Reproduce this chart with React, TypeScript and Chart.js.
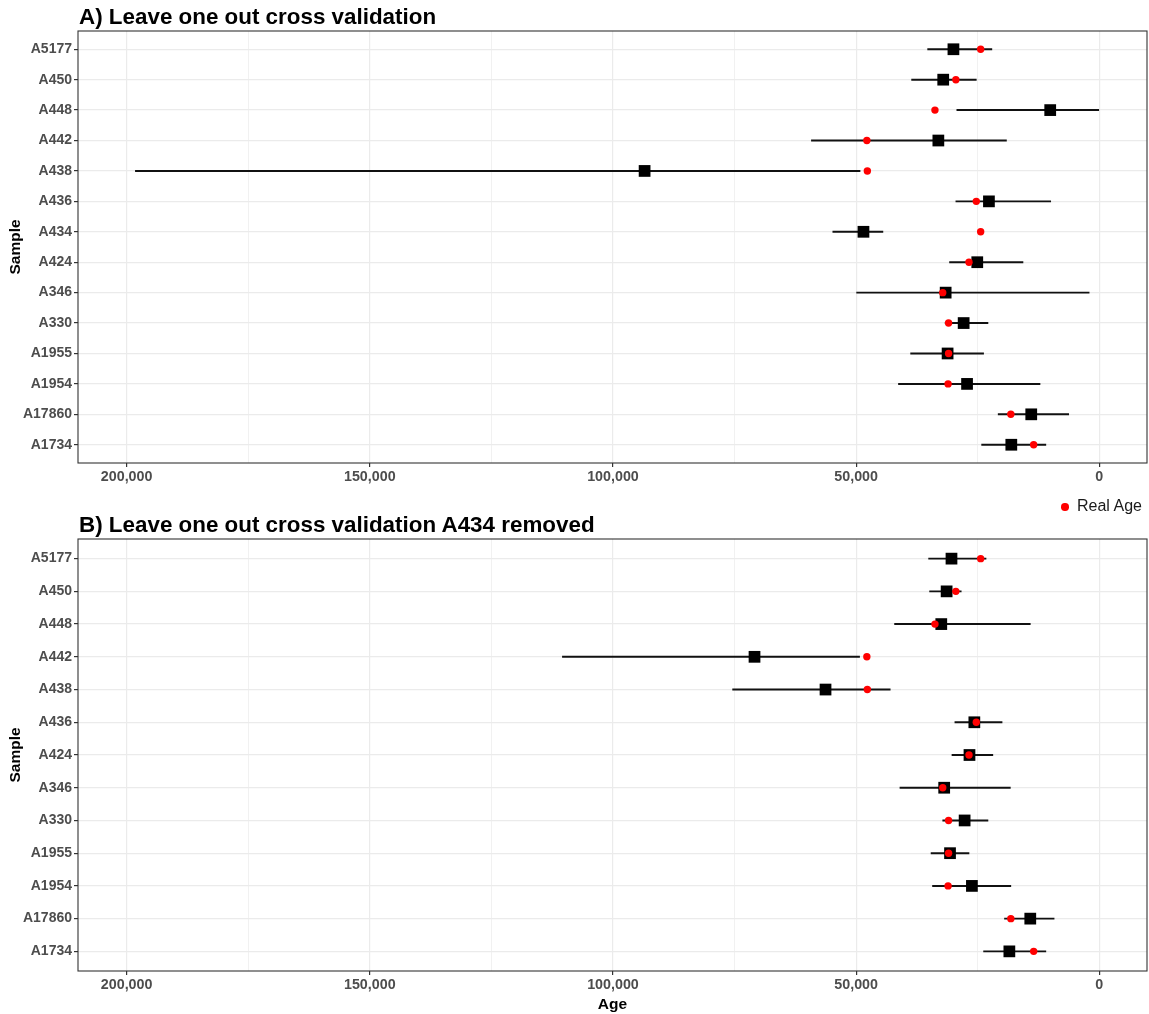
import React, { useEffect, useRef } from 'react';
import { Chart, registerables } from 'chart.js';

Chart.register(...registerables);

// ---- Panel A: leave one out cross validation (all samples) ----
const samplesA = ['A5177', 'A450', 'A448', 'A442', 'A438', 'A436', 'A434', 'A424', 'A346', 'A330', 'A1955', 'A1954', 'A17860', 'A1734'];
const predictedA = [30000, 32100, 10100, 33100, 93500, 22700, 48500, 25100, 31600, 27900, 31200, 27200, 14000, 18100];
const lowerA = [22100, 25300, 0, 19100, 49200, 10000, 44500, 15700, 2100, 22900, 23800, 12200, 6300, 11000];
const upperA = [35300, 38600, 29300, 59200, 198200, 29500, 54800, 30800, 49900, 31700, 38800, 41300, 20800, 24200];
const realAgeA = [24400, 29500, 33800, 47800, 47700, 25300, 24400, 26800, 32200, 31000, 31000, 31100, 18200, 13500];

// ---- Panel B: leave one out cross validation with A434 removed ----
const samplesB = ['A5177', 'A450', 'A448', 'A442', 'A438', 'A436', 'A424', 'A346', 'A330', 'A1955', 'A1954', 'A17860', 'A1734'];
const predictedB = [30400, 31400, 32500, 70900, 56300, 25700, 26700, 31900, 27700, 30700, 26200, 14200, 18500];
const lowerB = [23300, 28400, 14200, 49300, 43000, 20000, 21900, 18300, 22900, 26800, 18200, 9300, 11000];
const upperB = [35100, 34900, 42100, 110400, 75400, 29700, 30300, 41000, 32200, 34600, 34300, 19500, 23800];
const realAgeB = [24400, 29500, 33800, 47800, 47700, 25300, 26800, 32200, 31000, 31000, 31100, 18200, 13500];

// Age axis: major ticks every 50,000, minor grid every 25,000
const ageTicks = [0, 25000, 50000, 75000, 100000, 125000, 150000, 175000, 200000];
const ageMin = -9800;
const ageMax = 210000;

const FONT = "'Liberation Sans', Arial, Helvetica, sans-serif";
const GRID = '#ebebeb';
const DARK = '#333333';
const TICK_TEXT = '#4d4d4d';

const panelBorder = {
  id: 'panelBorder',
  afterDraw(chart: any) {
    const { ctx, chartArea: a } = chart;
    ctx.save();
    ctx.strokeStyle = DARK;
    ctx.lineWidth = 1.1;
    ctx.strokeRect(a.left, a.top, a.right - a.left, a.bottom - a.top);
    ctx.restore();
  },
};

type PanelProps = {
  samples: string[];
  predicted: number[];
  lower: number[];
  upper: number[];
  realAge: number[];
  width: number;
  height: number;
  padTop: number;
  xAxisHeight: number;
  showAgeTitle: boolean;
};

function Panel(props: PanelProps) {
  const ref = useRef<HTMLCanvasElement | null>(null);

  useEffect(() => {
    if (!ref.current) return;
    const { samples, predicted, lower, upper, realAge } = props;
    const idx = samples.map((_, i) => i);
    const isMajor = (v: number) => v % 50000 === 0;

    const chart = new Chart(ref.current, {
      type: 'scatter',
      data: {
        datasets: [
          {
            label: 'Real Age',
            data: idx.map((i) => ({ x: realAge[i], y: i })),
            pointStyle: 'circle',
            pointRadius: 3.7,
            pointHoverRadius: 3.7,
            backgroundColor: '#ff0000',
            borderWidth: 0,
            order: 0,
          } as any,
          {
            label: 'Predicted Age',
            data: idx.map((i) => ({ x: predicted[i], y: i })),
            pointStyle: 'rect',
            pointRadius: 8.3,
            pointHoverRadius: 8.3,
            backgroundColor: '#000000',
            borderWidth: 0,
            order: 1,
          } as any,
          {
            type: 'bar',
            label: 'Interval',
            indexAxis: 'y',
            data: idx.map((i) => ({ x: [lower[i], upper[i]], y: i })),
            backgroundColor: '#111111',
            barThickness: 1.3,
            grouped: false,
            order: 2,
          } as any,
        ],
      },
      options: {
        responsive: false,
        animation: false,
        events: [],
        layout: { autoPadding: false, padding: { top: props.padTop, right: 2, left: 0, bottom: 0 } },
        plugins: {
          legend: { display: false },
          tooltip: { enabled: false },
          title: { display: false },
        },
        scales: {
          x: {
            type: 'linear',
            reverse: true,
            offset: false,
            min: ageMin,
            max: ageMax,
            afterBuildTicks: (s: any) => {
              s.ticks = ageTicks.map((v) => ({ value: v }));
            },
            afterFit: (s: any) => {
              s.height = props.xAxisHeight;
              s.paddingLeft = 0;
              s.paddingRight = 0;
            },
            ticks: {
              autoSkip: false,
              maxRotation: 0,
              padding: 1,
              color: TICK_TEXT,
              font: { family: FONT, size: 14.3, weight: 'bold' },
              callback: (v: any) => (isMajor(Number(v)) ? Number(v).toLocaleString('en-US') : ''),
            },
            grid: {
              offset: false,
              color: GRID,
              lineWidth: (c: any) => (c.tick && isMajor(c.tick.value) ? 1.2 : 0.7),
              tickColor: (c: any) => (c.tick && isMajor(c.tick.value) ? DARK : 'rgba(0,0,0,0)'),
              tickLength: 4,
            },
            border: { display: false },
            title: {
              display: props.showAgeTitle,
              text: 'Age',
              color: '#000000',
              font: { family: FONT, size: 15.5, weight: 'bold' },
              padding: { top: 0, bottom: 0 },
            },
          },
          y: {
            type: 'linear',
            reverse: true,
            offset: false,
            min: -0.6,
            max: samples.length - 1 + 0.6,
            afterBuildTicks: (s: any) => {
              s.ticks = idx.map((v) => ({ value: v }));
            },
            afterFit: (s: any) => {
              s.width = 78;
              s.paddingTop = 0;
              s.paddingBottom = 0;
            },
            ticks: {
              autoSkip: false,
              padding: 2,
              color: TICK_TEXT,
              font: { family: FONT, size: 14, weight: 'bold' },
              callback: (v: any) => samples[Number(v)] ?? '',
            },
            grid: {
              offset: false,
              color: GRID,
              lineWidth: 1.2,
              tickColor: DARK,
              tickLength: 4,
            },
            border: { display: false },
            title: {
              display: true,
              text: 'Sample',
              color: '#000000',
              font: { family: FONT, size: 15.5, weight: 'bold' },
              padding: { top: 6, bottom: 0 },
            },
          },
        },
      } as any,
      plugins: [panelBorder],
    });

    return () => chart.destroy();
  }, []);

  return <canvas ref={ref} width={props.width} height={props.height} style={{ display: 'block', width: props.width, height: props.height }} />;
}

const titleStyle: React.CSSProperties = {
  position: 'absolute',
  left: 79,
  fontFamily: FONT,
  fontWeight: 'bold',
  fontSize: 22.4,
  lineHeight: '22px',
  color: '#000000',
  whiteSpace: 'nowrap',
};

export default function App() {
  return (
    <div style={{ position: 'absolute', left: 0, top: 0, width: 1149, height: 1014, background: '#ffffff', overflow: 'hidden' }}>
      <div style={{ position: 'absolute', left: 0, top: 0 }}>
        <Panel
          samples={samplesA}
          predicted={predictedA}
          lower={lowerA}
          upper={upperA}
          realAge={realAgeA}
          width={1149}
          height={490}
          padTop={31}
          xAxisHeight={27}
          showAgeTitle={false}
        />
      </div>
      <div style={{ position: 'absolute', left: 0, top: 490 }}>
        <Panel
          samples={samplesB}
          predicted={predictedB}
          lower={lowerB}
          upper={upperB}
          realAge={realAgeB}
          width={1149}
          height={524}
          padTop={49}
          xAxisHeight={43}
          showAgeTitle={true}
        />
      </div>
      <div style={{ ...titleStyle, top: 6 }}>A) Leave one out cross validation</div>
      <div style={{ ...titleStyle, top: 514 }}>B) Leave one out cross validation A434 removed</div>
      <div style={{ position: 'absolute', left: 1061.3, top: 503.3, width: 7.4, height: 7.4, borderRadius: '50%', background: '#ff0000' }} />
      <div
        style={{
          position: 'absolute',
          left: 1077,
          top: 496,
          fontFamily: FONT,
          fontSize: 16,
          lineHeight: '20px',
          color: '#1a1a1a',
          whiteSpace: 'nowrap',
        }}
      >
        Real Age
      </div>
    </div>
  );
}
